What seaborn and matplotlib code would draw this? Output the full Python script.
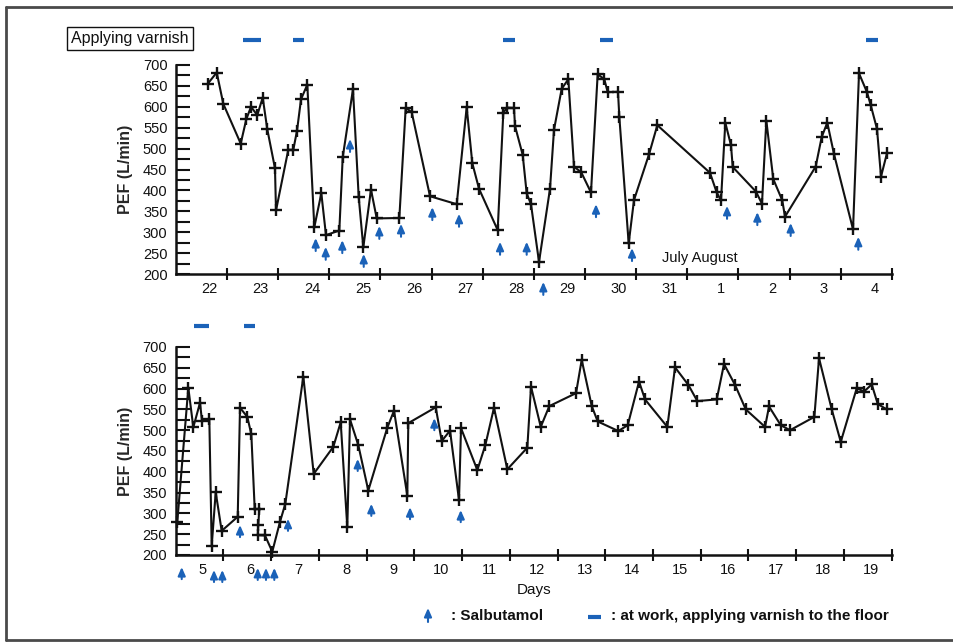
import numpy as np
import pandas as pd
import matplotlib
matplotlib.use("Agg")
import matplotlib.pyplot as plt
from matplotlib.lines import Line2D
from matplotlib.patches import FancyArrowPatch
import seaborn as sns

# ---------------- data ----------------
# Top panel: July 22 -> August 4 (x in days from start of July 22)
top_day_labels = ["22", "23", "24", "25", "26", "27", "28", "29", "30", "31", "1", "2", "3", "4"]
top_t = [0.623, 0.799, 0.928, 1.268, 1.377, 1.469, 1.592, 1.698, 1.788, 1.938,
         1.958, 2.198, 2.296, 2.369, 2.447, 2.570, 2.707, 2.844, 2.935, 3.196,
         3.262, 3.463, 3.575, 3.665, 3.815, 3.927, 4.369, 4.494, 4.611, 4.969,
         5.491, 5.686, 5.796, 5.927, 6.292, 6.402, 6.474, 6.611, 6.631, 6.781,
         6.859, 6.943, 7.100, 7.315, 7.393, 7.543, 7.673, 7.784, 7.927, 8.116,
         8.247, 8.376, 8.443, 8.644, 8.670, 8.853, 8.957, 9.250, 9.413, 10.443,
         10.574, 10.658, 10.742, 10.853, 10.887, 11.342, 11.459, 11.544, 11.680, 11.856,
         11.909, 12.509, 12.627, 12.736, 12.867, 13.239, 13.356, 13.512, 13.585, 13.708,
         13.786, 13.903]
top_pef = [655, 682, 607, 512, 570, 600, 580, 622, 546, 453,
           352, 497, 497, 543, 618, 653, 312, 393, 293, 304,
           479, 642, 384, 264, 402, 333, 334, 598, 587, 386,
           367, 599, 465, 404, 305, 586, 598, 597, 554, 485,
           393, 367, 229, 404, 545, 643, 666, 457, 443, 395,
           678, 666, 635, 636, 576, 273, 377, 486, 556, 442,
           395, 376, 562, 508, 456, 397, 368, 567, 427, 376,
           337, 457, 528, 562, 487, 307, 680, 635, 604, 547,
           433, 489]
top_salb_t = [2.734, 2.930, 3.254, 3.405, 3.673, 3.978, 4.402, 5.014, 5.536,
              6.338, 6.859, 7.184, 8.214, 8.918, 10.776, 11.368, 12.020, 13.342]
top_salb_tip = [286, 265, 281, 523, 248, 315, 320, 360, 344,
                277, 277, 181, 367, 262, 363, 348, 322, 289]
top_work_start = [1.313, 2.290, 6.396, 8.292, 13.493]
top_work_end = [1.665, 2.505, 6.631, 8.547, 13.728]

# Bottom panel: August 5 -> August 19
bottom_day_labels = [str(d) for d in range(5, 20)]
bottom_t = [0.036, 0.267, 0.372, 0.512, 0.554, 0.707, 0.757, 0.841, 0.966, 1.302,
            1.350, 1.503, 1.587, 1.658, 1.754, 1.733, 1.721, 1.873, 2.026, 2.188,
            2.299, 2.676, 2.894, 3.304, 3.459, 3.597, 3.654, 3.828, 4.037, 4.435,
            4.576, 4.854, 4.875, 5.449, 5.575, 5.749, 5.937, 5.979, 6.321, 6.488,
            6.670, 6.949, 7.368, 7.445, 7.649, 7.829, 8.388, 8.507, 8.717, 8.842,
            9.274, 9.471, 9.708, 9.833, 10.300, 10.462, 10.740, 10.929, 11.335, 11.488,
            11.718, 11.943, 12.347, 12.431, 12.676, 12.871, 13.380, 13.478, 13.744, 13.933,
            14.268, 14.421, 14.582, 14.708, 14.896]
bottom_pef = [279, 602, 507, 566, 522, 528, 222, 351, 258, 292,
              554, 532, 490, 310, 311, 272, 248, 247, 208, 280,
              323, 629, 395, 460, 519, 267, 526, 464, 355, 506,
              547, 343, 517, 555, 474, 499, 332, 505, 404, 464,
              554, 406, 458, 605, 508, 558, 589, 669, 558, 521,
              498, 512, 617, 574, 508, 651, 609, 570, 574, 659,
              609, 550, 508, 557, 512, 500, 532, 673, 550, 472,
              601, 593, 610, 563, 550]
bottom_salb_t = [0.129, 0.805, 0.979, 1.350, 1.721, 1.894, 2.068, 2.355,
                 3.815, 4.100, 4.911, 5.420, 5.973]
bottom_salb_tip = [171, 164, 164, 272, 169, 169, 169, 287, 431, 323, 315, 529, 308]
bottom_work_start = [0.386, 1.434]
bottom_work_end = [0.700, 1.664]

# ---------------- style ----------------
sns.set_style("ticks")
plt.rcParams["font.family"] = ["Liberation Sans", "DejaVu Sans"]
BLUE = "#1b62b8"
INK = "#111111"
W, H = 954, 643

fig = plt.figure(figsize=(W / 100, H / 100), dpi=100)
fig.patch.set_facecolor("white")


def px_rect(left, right, top, bottom):
    return [left / W, 1 - bottom / H, (right - left) / W, (bottom - top) / H]


ax_top = fig.add_axes(px_rect(175.85, 891.95, 65, 274))
ax_bot = fig.add_axes(px_rect(175.56, 891.7, 347, 555))


def draw_panel(ax, t, pef, labels, label_offset, ndays, salb_t, salb_tip, arrow_len,
               work_s, work_e, work_y):
    df = pd.DataFrame({"t": t, "pef": pef})
    sns.lineplot(data=df, x="t", y="pef", sort=False, estimator=None, ax=ax,
                 color=INK, lw=1.5, marker="+", markersize=9,
                 markeredgewidth=1.7, markeredgecolor=INK, clip_on=False)
    ax.set_xlim(0, ndays)
    ax.set_ylim(200, 700)
    sns.despine(ax=ax)
    for s in ("left", "bottom"):
        ax.spines[s].set_linewidth(1.8)
        ax.spines[s].set_color(INK)
    ax.set_facecolor("white")
    # y ticks
    ax.set_yticks(np.arange(200, 701, 50))
    ax.set_yticks(np.arange(225, 700, 50), minor=True)
    ax.tick_params(axis="y", which="both", direction="in", length=10, width=1.5,
                   colors=INK, labelsize=10.5, pad=6)
    # x: day boundaries as minor ticks, labels as major (no tick mark)
    ax.set_xticks(np.arange(1, ndays + 1), minor=True)
    ax.set_xticks(np.arange(ndays) + label_offset)
    ax.set_xticklabels(labels)
    ax.tick_params(axis="x", which="minor", direction="inout", length=9, width=1.5,
                   colors=INK)
    ax.tick_params(axis="x", which="major", length=0, labelsize=10.5, pad=6,
                   colors=INK)
    ax.set_xlabel("")
    ax.set_ylabel("PEF (L/min)", fontsize=11.5, fontweight="bold", labelpad=7)
    # salbutamol arrows
    for x, tip in zip(salb_t, salb_tip):
        ax.annotate("", xy=(x, tip), xytext=(x, tip - arrow_len),
                    arrowprops=dict(arrowstyle="-|>,head_length=0.5,head_width=0.22",
                                    color=BLUE, lw=1.5, shrinkA=0, shrinkB=0),
                    annotation_clip=False)
    # work periods
    for s, e in zip(work_s, work_e):
        ax.plot([s, e], [work_y, work_y], color=BLUE, lw=3, solid_capstyle="butt",
                clip_on=False)


draw_panel(ax_top, top_t, top_pef, top_day_labels, 0.66, 14,
           top_salb_t, top_salb_tip, 31, top_work_start, top_work_end, 760)
draw_panel(ax_bot, bottom_t, bottom_pef, bottom_day_labels, 0.57, 15,
           bottom_salb_t, bottom_salb_tip, 29, bottom_work_start, bottom_work_end, 750)

ax_top.text(10.25, 238, "July August", ha="center", va="center", fontsize=10.5,
            color=INK)
ax_bot.set_xlabel("Days", fontsize=11, color=INK, labelpad=4)

# "Applying varnish" box
fig.text(130 / W, 1 - 38.5 / H, "Applying varnish", ha="center", va="center",
         fontsize=11.5, color=INK,
         bbox=dict(boxstyle="square,pad=0.25", facecolor="white", edgecolor=INK, lw=1))

# legend at the bottom
fig.add_artist(FancyArrowPatch(
    (428 / W, 1 - 622 / H), (428 / W, 1 - 608 / H), transform=fig.transFigure,
    arrowstyle="-|>,head_length=0.5,head_width=0.22", mutation_scale=10,
    color=BLUE, lw=1.5, shrinkA=0, shrinkB=0))
fig.text(451 / W, 1 - 616 / H, ": Salbutamol", ha="left", va="center",
         fontsize=11, fontweight="bold", color=INK)
fig.add_artist(Line2D([588 / W, 601 / W], [1 - 617 / H, 1 - 617 / H], color=BLUE,
                      lw=3, solid_capstyle="butt", transform=fig.transFigure))
fig.text(611 / W, 1 - 616 / H, ": at work, applying varnish to the floor", ha="left",
         va="center", fontsize=11, fontweight="bold", color=INK)

# outer frame (top, left, bottom)
frame_c = "#4a4a4a"
fig.add_artist(Line2D([6 / W, 1], [1 - 7 / H, 1 - 7 / H], color=frame_c, lw=2,
                      transform=fig.transFigure))
fig.add_artist(Line2D([6 / W, 1], [1 - 640 / H, 1 - 640 / H], color=frame_c, lw=2,
                      transform=fig.transFigure))
fig.add_artist(Line2D([6 / W, 6 / W], [1 - 7 / H, 1 - 640 / H], color=frame_c, lw=2,
                      transform=fig.transFigure))

fig.savefig("out.png", dpi=100, facecolor="white")
